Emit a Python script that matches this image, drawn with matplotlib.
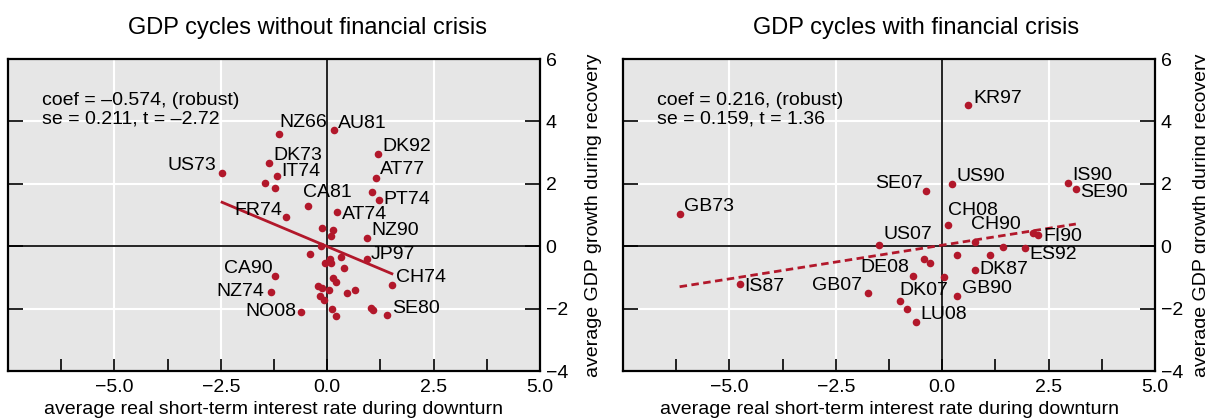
import numpy as np
import matplotlib.pyplot as plt
from matplotlib.ticker import MultipleLocator

plt.rcParams['font.family'] = ['Liberation Sans', 'DejaVu Sans']
plt.rcParams['font.size'] = 14

# GDP cycles without financial crisis
nofc_x = [-1.13, 0.15, 1.20, -2.47, -1.37, -1.18, -1.47, -1.23, 1.14, 1.05, 1.21,
          -0.44, 0.24, -0.97, -0.12, 0.14, 0.09, 0.94, -0.15, -0.41, 0.32, 0.93,
          0.06, 0.10, -0.05, 0.39, -1.22, 1.52, 0.14, 0.20, -1.31, -0.22, -0.13,
          0.04, 0.46, 0.66, -0.18, -0.08, 0.12, 0.20, 1.03, 1.08, 1.41, -0.61]
nofc_y = [3.59, 3.74, 2.96, 2.35, 2.66, 2.25, 2.04, 1.85, 2.19, 1.73, 1.47,
          1.30, 1.10, 0.93, 0.58, 0.51, 0.32, 0.27, 0.02, -0.26, -0.34, -0.41,
          -0.40, -0.55, -0.53, -0.71, -0.95, -1.25, -1.01, -1.16, -1.46, -1.29, -1.35,
          -1.41, -1.50, -1.41, -1.61, -1.73, -2.01, -2.23, -1.97, -2.05, -2.21, -2.12]
nofc_names = ['NZ66', 'AU81', 'DK92', 'US73', 'DK73', 'IT74', '', '', 'AT77', '', 'PT74',
              'CA81', 'AT74', 'FR74', '', '', '', 'NZ90', '', '', '', 'JP97',
              '', '', '', '', 'CA90', 'CH74', '', '', 'NZ74', '', '',
              '', '', '', '', '', '', '', '', '', 'SE80', 'NO08']
nofc_coef, nofc_const = -0.574, -0.01
nofc_text = 'coef = \u20130.574, (robust)\nse = 0.211, t = \u20132.72'

# GDP cycles with financial crisis
fc_x = [0.61, -0.38, 0.23, 2.95, 3.14, -6.17, 0.13, 0.78, 2.13, 2.26, -1.49, 1.42,
        1.95, 0.35, 1.12, -0.42, -0.28, 0.78, -0.68, 0.05, -4.75, -1.75, 0.35,
        -1.00, -0.82, -0.62]
fc_y = [4.51, 1.76, 1.99, 2.04, 1.83, 1.04, 0.69, 0.12, 0.41, 0.35, 0.03, -0.04,
        -0.06, -0.27, -0.27, -0.42, -0.55, -0.77, -0.94, -0.99, -1.20, -1.49, -1.59,
        -1.76, -2.00, -2.42]
fc_names = ['KR97', 'SE07', 'US90', 'IS90', 'SE90', 'GB73', 'CH08', 'CH90', '', 'FI90',
            'US07', '', 'ES92', '', '', '', '', 'DK87', 'DE08', '', 'IS87', 'GB07',
            'GB90', 'DK07', '', 'LU08']
fc_coef, fc_const = 0.216, 0.033
fc_text = 'coef = 0.216, (robust)\nse = 0.159, t = 1.36'

x_ticks = [-5, -2.5, 0, 2.5, 5]
x_minor = [-6.25, -3.75, -1.25, 1.25, 3.75]

# label placement: (dx, dy) in points, alignment
offsets = {
    'NZ66': (0, 8.3, 'left'), 'AU81': (3, 4.4, 'left'), 'DK92': (3.3, 5.3, 'left'),
    'US73': (-4.4, 5.3, 'right'), 'DK73': (3.3, 5.5, 'left'), 'IT74': (3.3, 3, 'left'),
    'AT77': (3.3, 5.8, 'left'), 'PT74': (3.3, 0.8, 'left'), 'CA81': (-3.6, 9.4, 'left'),
    'AT74': (3, -1.7, 'left'), 'FR74': (-2.5, 5, 'right'), 'NZ90': (3.3, 5.3, 'left'),
    'JP97': (2.8, 3.3, 'left'), 'CA90': (-1.9, 5.3, 'right'), 'CH74': (3.3, 5.5, 'left'),
    'NZ74': (-5.5, 0.3, 'right'), 'NO08': (-3.3, 0.6, 'right'), 'SE80': (3.6, 5, 'left'),
    'KR97': (3.6, 4.9, 'left'), 'SE07': (-2.5, 5.5, 'right'), 'US90': (3.3, 5.2, 'left'),
    'IS90': (3.3, 5.2, 'left'), 'SE90': (3.3, -2.2, 'left'), 'GB73': (3.3, 4.9, 'left'),
    'CH08': (0, 9.9, 'left'), 'CH90': (-3, 12.9, 'left'), 'FI90': (3.3, -1.1, 'left'),
    'US07': (3.6, 7.4, 'left'), 'ES92': (3.3, -4.4, 'left'), 'DK87': (3, 0.3, 'left'),
    'DE08': (-3, 5.5, 'right'), 'IS87': (3.3, -2.2, 'left'), 'GB07': (-4.1, 5.2, 'right'),
    'GB90': (3.3, 5.2, 'left'), 'DK07': (0, 7.4, 'left'), 'LU08': (3.3, 5.5, 'left'),
}

red = '#b2182b'
bg = '#e6e6e6'

fig = plt.figure(figsize=(12.05, 4.18), dpi=100)
ax1 = fig.add_axes([8 / 1205, 47 / 418, 532 / 1205, 312 / 418])
ax2 = fig.add_axes([623 / 1205, 47 / 418, 532 / 1205, 312 / 418])


def panel(ax, xs, ys, names, coef, const, txt, dashed, ylpad):
    ax.set_facecolor(bg)
    ax.set_xlim(-7.5, 5)
    ax.set_ylim(-4, 6)
    ax.set_xticks(x_ticks)
    ax.set_xticklabels(['\u22125.0', '\u22122.5', '0.0', '2.5', '5.0'])
    ax.set_xticks(x_minor, minor=True)
    ax.yaxis.set_major_locator(MultipleLocator(2))
    ax.grid(True, which='major', color='white', lw=1.5)
    ax.set_axisbelow(True)
    ax.axhline(0, color='black', lw=1.2, zorder=1)
    ax.axvline(0, color='black', lw=1.2, zorder=1)
    for s in ax.spines.values():
        s.set_linewidth(1.6)
    ax.tick_params(axis='x', which='both', direction='in', length=9, width=1.2,
                   top=False, pad=6, labelsize=14)
    ax.tick_params(axis='y', direction='in', length=11, width=1.2, left=True,
                   right=True, labelleft=False, labelright=True, pad=4, labelsize=14)
    ax.yaxis.set_label_position('right')
    ax.set_ylabel('average GDP growth during recovery', fontsize=14, labelpad=ylpad)
    ax.set_xlabel('average real short-term interest rate during downturn',
                  fontsize=14, labelpad=3)

    ax.scatter(xs, ys, s=30, color=red, zorder=3, linewidths=0)
    lx = np.array([min(xs), max(xs)])
    line, = ax.plot(lx, coef * lx + const, color=red, lw=2, zorder=2)
    if dashed:
        line.set_dashes((2.7, 1.6))
    for x, y, n in zip(xs, ys, names):
        if n:
            dx, dy, ha = offsets[n]
            ax.annotate(n, (x, y), xytext=(dx, dy), textcoords='offset points',
                        ha=ha, va='center', fontsize=14, zorder=4)
    ax.text(0.064, 0.895, txt, transform=ax.transAxes, ha='left', va='top',
            fontsize=14, linespacing=1.1)


panel(ax1, nofc_x, nofc_y, nofc_names, nofc_coef, nofc_const, nofc_text, False, 12)
panel(ax2, fc_x, fc_y, fc_names, fc_coef, fc_const, fc_text, True, 7)

fig.text(308 / 1205, 1 - 28 / 418, 'GDP cycles without financial crisis',
         ha='center', va='center', fontsize=17)
fig.text(916 / 1205, 1 - 28 / 418, 'GDP cycles with financial crisis',
         ha='center', va='center', fontsize=17)

fig.savefig('out.png', dpi=100)
